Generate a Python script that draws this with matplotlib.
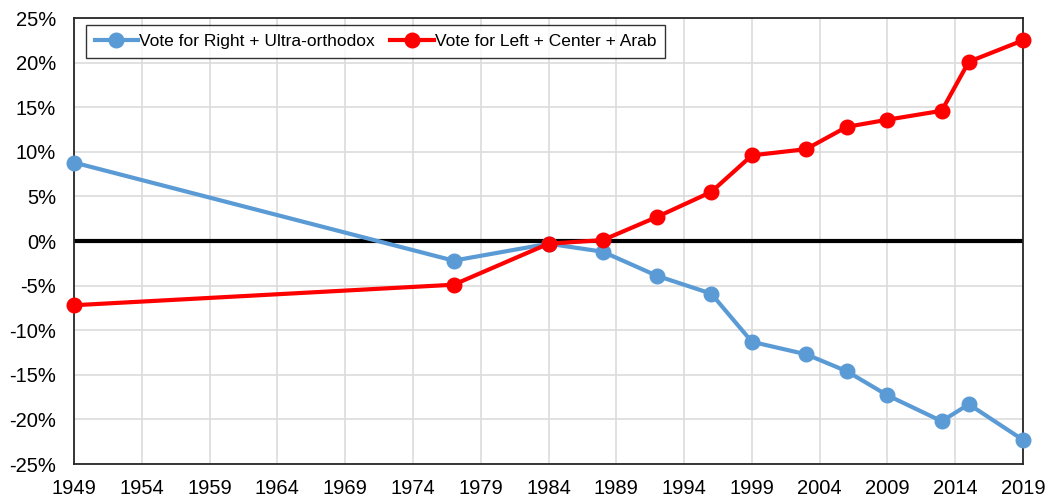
import numpy as np
import matplotlib
matplotlib.use('Agg')
import matplotlib.pyplot as plt
from matplotlib.ticker import FuncFormatter

plt.rcParams['font.family'] = ['Liberation Sans', 'DejaVu Sans']

# Data
years = [1949, 1977, 1984, 1988, 1992, 1996, 1999, 2003, 2006, 2009, 2013, 2015, 2019]
right_orthodox = [8.8, -2.2, -0.3, -1.2, -3.9, -5.9, -11.3, -12.7, -14.6, -17.3, -20.2, -18.3, -22.3]
left_center_arab = [-7.2, -4.9, -0.3, 0.1, 2.7, 5.5, 9.6, 10.3, 12.8, 13.6, 14.6, 20.1, 22.5]
x_ticks = list(range(1949, 2020, 5))
y_ticks = list(range(-25, 26, 5))

fig = plt.figure(figsize=(10.48, 4.99), dpi=100)
ax = fig.add_axes([0.0706, 0.0701, 0.9056, 0.8938])

ax.axhline(0, color='black', lw=3, zorder=2)
ax.plot(years, right_orthodox, color='#5b9bd5', lw=3, marker='o', ms=10.5,
        label='Vote for Right + Ultra-orthodox', zorder=3, clip_on=False)
ax.plot(years, left_center_arab, color='#ff0000', lw=3, marker='o', ms=10.5,
        label='Vote for Left + Center + Arab', zorder=4, clip_on=False)

ax.set_xlim(1949, 2019)
ax.set_ylim(-25, 25)
ax.set_xticks(x_ticks)
ax.set_yticks(y_ticks)
ax.yaxis.set_major_formatter(FuncFormatter(lambda v, p: f'{v:.0f}%'))
ax.tick_params(axis='y', length=0, labelsize=14.5, pad=13)
ax.tick_params(axis='x', length=0, labelsize=14.5, pad=11)
ax.grid(True, color='#dcdcdc', lw=1.2, zorder=0)
ax.set_axisbelow(True)
for s in ax.spines.values():
    s.set_color('#262626')
    s.set_linewidth(1.3)

leg = ax.legend(loc='upper left', ncol=2, bbox_to_anchor=(0.0126, 0.984),
                fontsize=12.5, frameon=True, fancybox=False, handlelength=2.5,
                handletextpad=0.05, columnspacing=0.9, borderpad=0.5,
                borderaxespad=0)
leg.get_frame().set_edgecolor('black')
leg.get_frame().set_linewidth(1.0)

plt.savefig('out.png', dpi=100)
plt.close()
